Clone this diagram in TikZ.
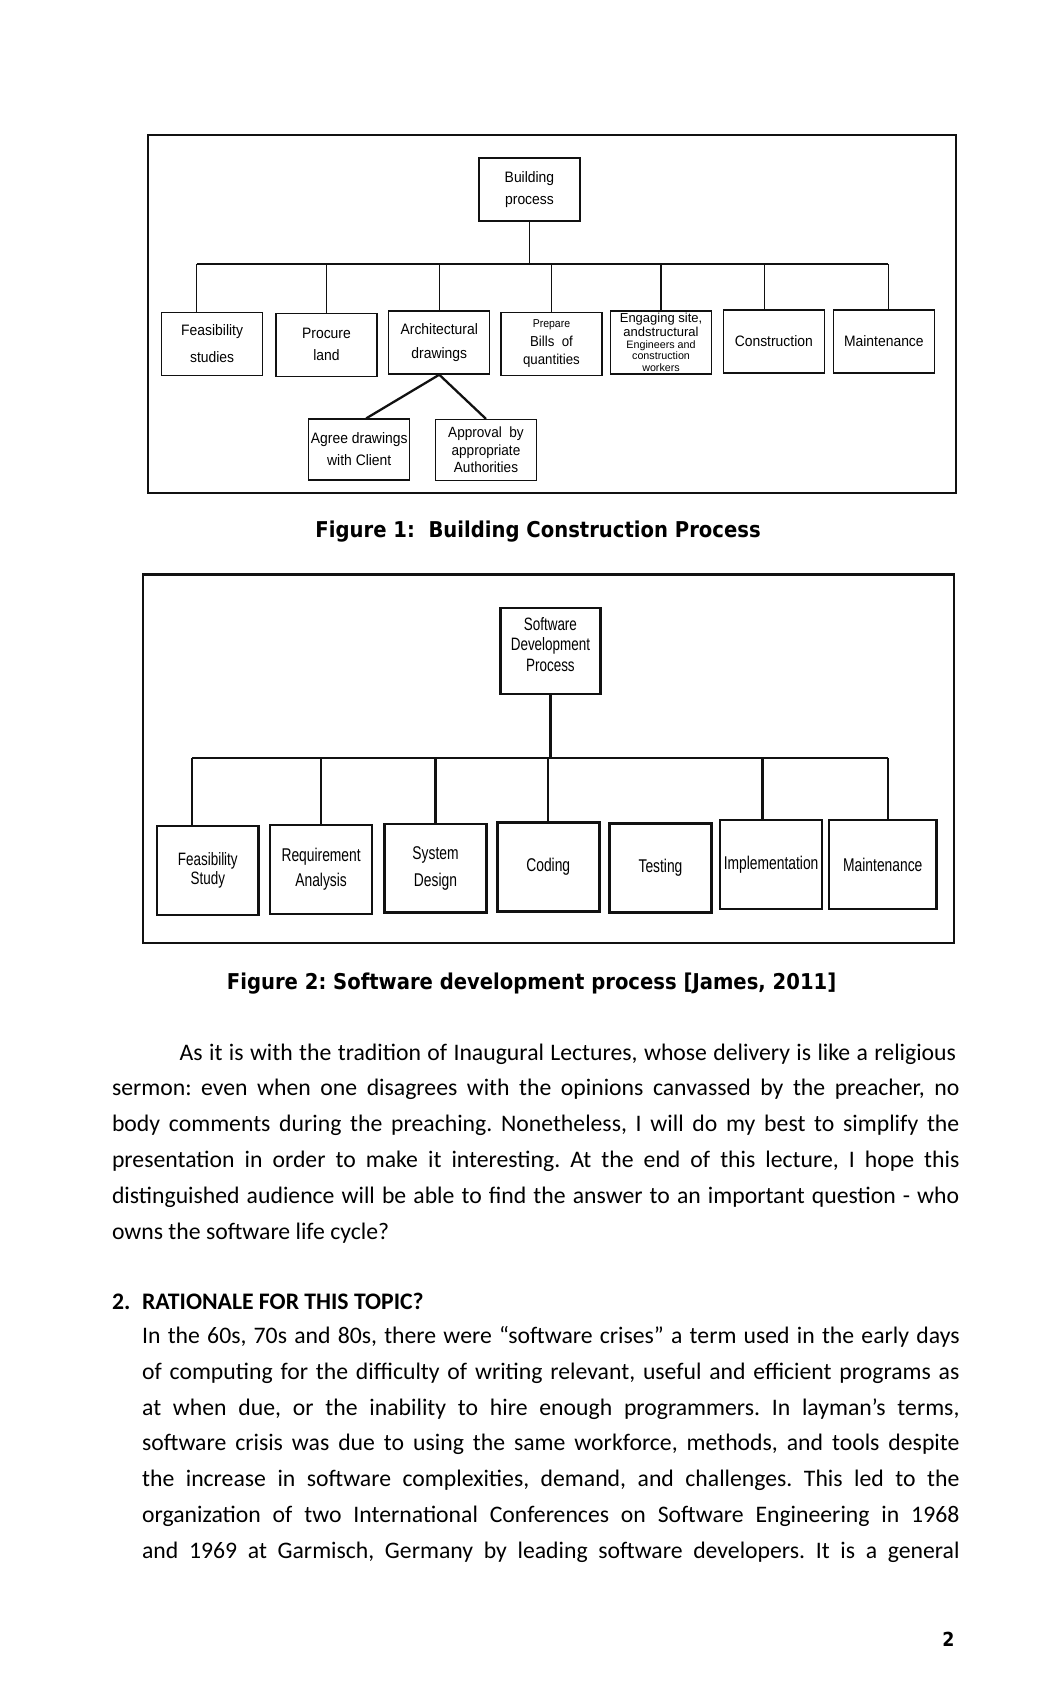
\documentclass[tikz,border=0pt]{standalone}
\usepackage{fontspec}
\setmainfont{Carlito}
\newfontfamily\boxfont[FakeStretch=0.92]{Liberation Sans}
\newfontfamily\plainboxfont{Liberation Sans}
\newfontfamily\narrowfont[FakeStretch=0.75]{Liberation Sans}
\newfontfamily\capfont[FakeStretch=0.9]{DejaVu Sans}
\usetikzlibrary{positioning,calc}
\definecolor{Ink}{HTML}{111111}
\definecolor{Paper}{HTML}{FFFFFF}
\frenchspacing

\tikzset{
  bldbox/.style={draw=Ink, line width=0.7pt, minimum width=2.02cm, minimum height=1.26cm,
    align=center, inner sep=0.5pt, font=\boxfont\fontsize{8.6}{12.5}\selectfont},
  swbox/.style={draw=Ink, line width=1.5pt, minimum width=2.04cm, minimum height=1.78cm,
    align=center, inner sep=0.5pt, font=\narrowfont\fontsize{10.5}{12}\selectfont},
  thinline/.style={Ink, line width=0.7pt},
  busline/.style={Ink, line width=1.3pt},
  framebox/.style={draw=Ink, line width=1.3pt},
  caption/.style={inner sep=0pt, font=\capfont\bfseries\fontsize{12.4}{14}\selectfont},
  bodyline/.style={anchor=base west, inner sep=0pt, font=\fontsize{13.5}{16}\selectfont}
}

\begin{document}
\begin{tikzpicture}[x=0.021484cm, y=-0.021484cm]
  \fill[Paper] (0,0) rectangle (984,1568);
  \useasboundingbox (0,0) rectangle (984,1568);

  % Figure 1
  \draw[framebox] (138,126) rectangle (890,459);
  \node[bldbox] (broot) at (493,176.5) {Building\\process};
  \node[bldbox] (bfs) at (197.5,320) {Feasibility\\[2.5pt]studies};
  \node[bldbox] (bpl) at (304,321) {Procure\\land};
  \node[bldbox] (bad) at (409,319) {Architectural\\[1.5pt]drawings};
  \node[bldbox, font=\boxfont\fontsize{8.2}{10.5}\selectfont] (bpb) at (513.5,320)
    {{\fontsize{6.5}{8}\selectfont Prepare}\\Bills\ \ of\\quantities};
  \node[bldbox, inner sep=0pt, font=\plainboxfont\fontsize{7.4}{6.6}\selectfont] (bes) at (615.5,319)
    {Engaging site,\\andstructural\\{\fontsize{6.1}{6.1}\selectfont Engineers and}\\
     {\fontsize{6.1}{6.1}\selectfont construction}\\{\fontsize{6.1}{6.1}\selectfont workers}};
  \node[bldbox] (bcn) at (720.5,318) {Construction};
  \node[bldbox] (bmt) at (823,318) {Maintenance};
  \node[bldbox, minimum height=1.22cm] (bag) at (334.5,418.5) {Agree drawings\\with Client};
  \node[bldbox, minimum height=1.22cm, font=\boxfont\fontsize{8.4}{10}\selectfont] (bap) at (452.5,419)
    {Approval\ \ by\\appropriate\\Authorities};

  \coordinate (bbus) at (493,246);
  \coordinate (bfsT) at ([xshift=-0.31cm]bfs.north);
  \coordinate (bcnT) at ([xshift=-0.18cm]bcn.north);
  \coordinate (bmtT) at ([xshift=0.09cm]bmt.north);
  \coordinate (bagT) at ([xshift=0.14cm]bag.north);
  \draw[thinline] (broot.south) -- (broot.south |- bbus);
  \draw[busline] (bfsT |- bbus) -- (bmtT |- bbus);
  \draw[thinline] (bfsT) -- (bfsT |- bbus);
  \draw[thinline] (bpl.north) -- (bpl.north |- bbus);
  \draw[thinline] (bad.north) -- (bad.north |- bbus);
  \draw[thinline] (bpb.north) -- (bpb.north |- bbus);
  \draw[thinline] (bes.north) -- (bes.north |- bbus);
  \draw[thinline] (bcnT) -- (bcnT |- bbus);
  \draw[thinline] (bmtT) -- (bmtT |- bbus);
  \draw[busline] (bagT) -- (bad.south) -- (bap.north);

  \node[caption] (cap1) at (501,495) {Figure 1:\ \ Building Construction Process};

  % Figure 2
  \draw[framebox] (133,535) rectangle (888,878);
  \node[swbox, minimum width=2cm, minimum height=1.72cm, font=\narrowfont\fontsize{10.2}{11.6}\selectfont]
    (sroot) at (512.5,606) {Software\\Development\\Process\\[-4pt]\mbox{}};
  \node[swbox, font=\narrowfont\fontsize{10.2}{10.4}\selectfont] (sfy) at (193.5,810.5) {Feasibility\\Study};
  \node[swbox] (sra) at (299,809.5) {Requirement\\[2pt]Analysis};
  \node[swbox] (ssd) at (405.5,808.5) {System\\[3pt]Design};
  \node[swbox] (scd) at (510.5,807) {Coding};
  \node[swbox] (sts) at (615,808) {Testing};
  \node[swbox] (sim) at (718,805) {Implementation};
  \node[swbox, minimum width=2.15cm] (smn) at (822,805) {Maintenance};

  \coordinate (sbus) at (511,706);
  \coordinate (sfyT) at ([xshift=-0.31cm]sfy.north);
  \coordinate (simT) at ([xshift=-0.17cm]sim.north);
  \coordinate (smnT) at ([xshift=0.11cm]smn.north);
  \draw[busline] (sroot.south) -- (sroot.south |- sbus);
  \draw[busline] (sfyT |- sbus) -- (smnT |- sbus);
  \draw[busline] (sfyT) -- (sfyT |- sbus);
  \draw[busline] (sra.north) -- (sra.north |- sbus);
  \draw[busline] (ssd.north) -- (ssd.north |- sbus);
  \draw[busline] (scd.north) -- (scd.north |- sbus);
  \draw[busline] (simT) -- (simT |- sbus);
  \draw[busline] (smnT) -- (smnT |- sbus);

  \node[caption] (cap2) at (495,916) {Figure 2: Software development process [James, 2011]};

  % text below the figures
  \node[bodyline] (pa1) at (167,987) {\makebox[15.53cm][s]{As it is with the tradition of Inaugural Lectures, whose delivery is like a religious}};
  \node[bodyline] (pa2) at (104,1020.4) {\makebox[16.95cm][s]{sermon: even when one disagrees with the opinions canvassed by the preacher, no}};
  \node[bodyline] (pa3) at (104,1053.8) {\makebox[16.95cm][s]{body comments during the preaching. Nonetheless, I will do my best to simplify the}};
  \node[bodyline] (pa4) at (104,1087.2) {\makebox[16.95cm][s]{presentation in order to make it interesting. At the end of this lecture, I hope this}};
  \node[bodyline] (pa5) at (104,1120.6) {\makebox[16.95cm][s]{distinguished audience will be able to find the answer to an important question - who}};
  \node[bodyline] (pa6) at (104,1154) {owns the software life cycle?};

  \node[bodyline, font=\bfseries\fontsize{13.5}{16}\selectfont] (head2) at (104,1219)
    {\makebox[0.6cm][l]{2.}RATIONALE FOR THIS TOPIC?};

  \node[bodyline] (pb1) at (132,1251) {\makebox[16.35cm][s]{In the 60s, 70s and 80s, there were “software crises” a term used in the early days}};
  \node[bodyline] (pb2) at (132,1284.3) {\makebox[16.35cm][s]{of computing for the difficulty of writing relevant, useful and efficient programs as}};
  \node[bodyline] (pb3) at (132,1317.6) {\makebox[16.35cm][s]{at when due, or the inability to hire enough programmers. In layman’s terms,}};
  \node[bodyline] (pb4) at (132,1350.9) {\makebox[16.35cm][s]{software crisis was due to using the same workforce, methods, and tools despite}};
  \node[bodyline] (pb5) at (132,1384.2) {\makebox[16.35cm][s]{the increase in software complexities, demand, and challenges. This led to the}};
  \node[bodyline] (pb6) at (132,1417.5) {\makebox[16.35cm][s]{organization of two International Conferences on Software Engineering in 1968}};
  \node[bodyline] (pb7) at (132,1450.8) {\makebox[16.35cm][s]{and 1969 at Garmisch, Germany by leading software developers. It is a general}};

  \node[inner sep=0pt, font=\capfont\bfseries\fontsize{11}{12}\selectfont] (pageno) at (883,1526) {2};
\end{tikzpicture}
\end{document}
